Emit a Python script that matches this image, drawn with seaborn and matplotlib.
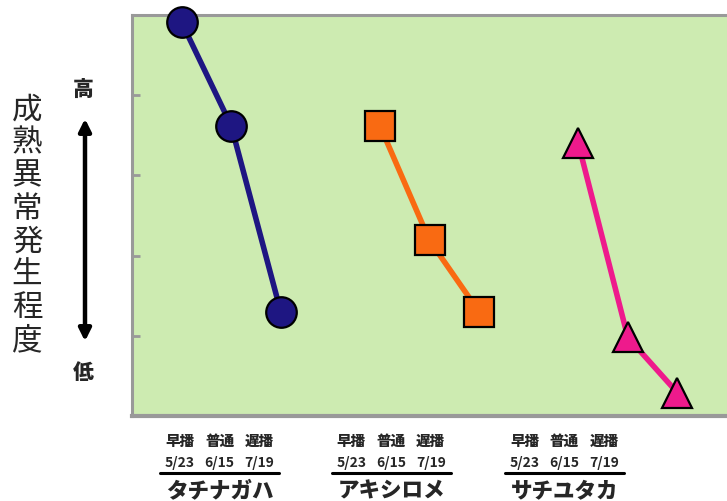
import matplotlib
matplotlib.use("Agg")
import matplotlib.pyplot as plt
import seaborn as sns
import pandas as pd
import numpy as np

# data (y scale 0-5, no labels on the axis)
cultivars = ['タチナガハ', 'アキシロメ', 'サチユタカ']
sowing = ['早播', '普通', '遅播']
dates = ['5/23', '6/15', '7/19']
tachinagaha = [4.91, 3.62, 1.30]
akishirome = [3.62, 2.19, 1.30]
sachiyutaka = [3.40, 0.98, 0.29]

colors = ['#1e1682', '#f96a12', '#ee1a8c']
markers = ['o', 's', '^']

sns.set_style("white")
plt.rcParams['font.family'] = ['Noto Sans CJK JP', 'DejaVu Sans']

fig = plt.figure(figsize=(7.27, 5.02), dpi=100)
ax = fig.add_axes([132/727, 85/502, 1 - 132/727, 401/502])
ax.set_facecolor('#cdebb1')

series = [tachinagaha, akishirome, sachiyutaka]
for i, vals in enumerate(series):
    df = pd.DataFrame({'x': [i*4 + j + 1 for j in range(3)], 'y': vals})
    sns.lineplot(data=df, x='x', y='y', ax=ax, color=colors[i], linewidth=4,
                 marker=markers[i], markersize=22, markeredgecolor='black',
                 markeredgewidth=1.6, clip_on=False, zorder=3)

ax.set_xlim(0, 12)
ax.set_ylim(0, 5)
ax.set_yticks([1, 2, 3, 4])
ax.set_yticklabels([])
ax.set_xticks([])
ax.set_xlabel('')
ax.set_ylabel('')
ax.tick_params(axis='y', direction='in', length=5.5, width=2, color='#999999', left=True)
for s in ['left', 'top', 'bottom']:
    ax.spines[s].set_color('#999999')
    ax.spines[s].set_linewidth(2.2)
ax.spines['bottom'].set_linewidth(3)
ax.spines['right'].set_visible(False)

# category labels under the plot (slightly left of the points, as in the original)
trans = ax.get_xaxis_transform()
centers = [(220 - 132)/49.75, (392 - 132)/49.75, (566 - 132)/49.75]
for c, name in zip(centers, cultivars):
    for j in range(3):
        xx = c + (j - 1)*0.8
        ax.text(xx, -0.060, sowing[j], transform=trans, ha='center', va='center',
                fontsize=10.5, fontweight='black')
        ax.text(xx, -0.115, dates[j], transform=trans, ha='center', va='center',
                fontsize=10, fontweight='bold')
    ax.plot([c - 1.2, c + 1.2], [-0.142, -0.142], transform=trans, color='black',
            lw=2.2, clip_on=False)
    ax.text(c, -0.184, name, transform=trans, ha='center', va='center',
            fontsize=15.5, fontweight='black')

# vertical y label, one character per line
ylab = '成熟異常発生程度'
for i, ch in enumerate(ylab):
    fig.text(27/727, 1 - (110 + 33*i)/502, ch, ha='center', va='center', fontsize=22)

fig.text(83/727, 1 - 90/502, '高', ha='center', va='center', fontsize=15, fontweight='black')
fig.text(83/727, 1 - 373/502, '低', ha='center', va='center', fontsize=15, fontweight='black')
fig.add_artist(matplotlib.patches.FancyArrowPatch(
    (85/727, 1 - 117/502), (85/727, 1 - 345/502), transform=fig.transFigure,
    arrowstyle='<|-|>', mutation_scale=18, lw=3.2, color='black'))

fig.savefig('out.png', dpi=100)
